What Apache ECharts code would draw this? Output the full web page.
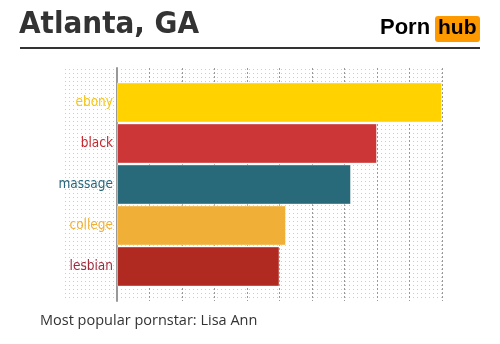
<!DOCTYPE html>
<html><head><meta charset="utf-8">
<script src="https://cdn.jsdelivr.net/npm/echarts@6/dist/echarts.min.js"></script>
<style>html,body{margin:0;padding:0;background:#fff}#c{width:500px;height:344px}</style>
</head><body><div id="c"></div>
<script>
const categories = ['ebony', 'black', 'massage', 'college', 'lesbian'];
const values = [100, 80, 72, 52, 50];
const barColors = ['#FFD200', '#CC3636', '#286A7A', '#F0B038', '#B02A22'];
const labelColors = ['#F5C518', '#C4282F', '#28657A', '#F0B038', '#9E2A3A'];
const xTicks = [0, 10, 20, 30, 40, 50, 60, 70, 80, 90, 100];

const pc = document.createElement('canvas');
pc.width = 4; pc.height = 4;
const pctx = pc.getContext('2d');
pctx.fillStyle = '#cccccc';
pctx.fillRect(1, 1, 1, 1);

const chart = echarts.init(document.getElementById('c'), null, {renderer: 'canvas'});
const condensed = '"DejaVu Sans Condensed", sans-serif';
chart.setOption({
  animation: false,
  graphic: [
    {type: 'rect', z: -10, shape: {x: 65, y: 68, width: 377, height: 233}, style: {fill: {image: pc, repeat: 'repeat'}}},
    {type: 'text', left: 19, top: 9, style: {text: 'Atlanta, GA', font: 'bold 31px "DejaVu Sans Condensed", sans-serif', fill: '#333'}},
    {type: 'rect', shape: {x: 20, y: 47, width: 460, height: 2}, style: {fill: '#333'}},
    {type: 'text', left: 380, top: 17, style: {text: 'Porn', font: 'bold 22px "Liberation Sans", Arial, sans-serif', fill: '#000'}},
    {type: 'rect', shape: {x: 435, y: 16, width: 45, height: 26, r: 3}, style: {fill: '#FF9900'}},
    {type: 'text', left: 438, top: 18, style: {text: 'hub', font: 'bold 21px "Liberation Sans", Arial, sans-serif', fill: '#000'}},
    {type: 'text', left: 40, top: 313, style: {text: 'Most popular pornstar: Lisa Ann', font: '14.5px "Open Sans", sans-serif', fill: '#333'}}
  ],
  grid: [
    {left: 117, width: 325, top: 82, height: 205, containLabel: false},
    {left: 117, width: 325, top: 68, height: 233, containLabel: false}
  ],
  xAxis: [
    {gridIndex: 0, type: 'value', min: xTicks[0], max: xTicks[xTicks.length - 1], interval: 10, show: false},
    {gridIndex: 1, type: 'value', min: xTicks[0], max: xTicks[xTicks.length - 1], interval: 10,
     axisLine: {show: false}, axisTick: {show: false}, axisLabel: {show: false},
     splitLine: {show: true, lineStyle: {color: '#999', type: [2, 2], width: 1}}}
  ],
  yAxis: [
    {gridIndex: 0, type: 'category', data: categories, inverse: true,
     axisLine: {show: false}, axisTick: {show: false}, splitLine: {show: false},
     axisLabel: {margin: 4, fontSize: 13.5, fontFamily: condensed,
       color: function (v, i) { return labelColors[categories.indexOf(v)]; }}},
    {gridIndex: 1, type: 'value', min: 0, max: 1,
     axisLine: {show: true, lineStyle: {color: '#999', width: 2}}, axisTick: {show: false},
     axisLabel: {show: false}, splitLine: {show: false}}
  ],
  series: [{
    type: 'bar', xAxisIndex: 0, yAxisIndex: 0, z: 5,
    barCategoryGap: '2%',
    data: values.map((v, i) => ({value: v, itemStyle: {color: barColors[i], borderColor: 'rgba(255,255,255,0.45)', borderWidth: 1}}))
  }]
});
</script></body></html>
